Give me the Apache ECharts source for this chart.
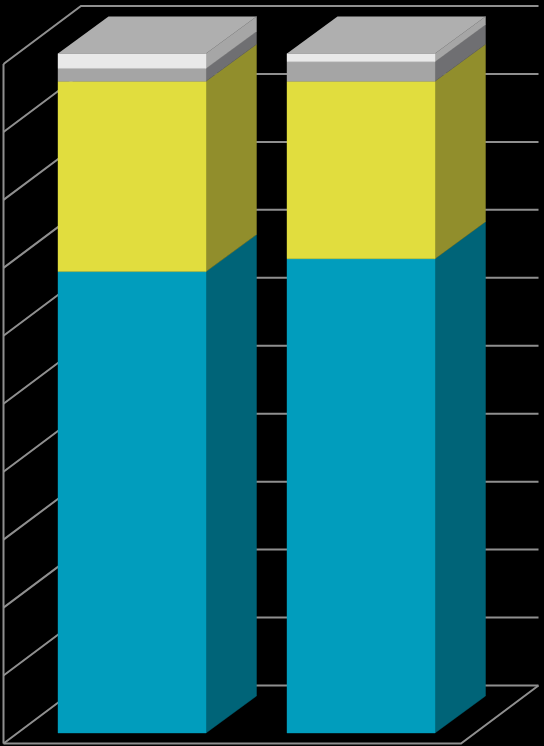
<!DOCTYPE html>
<html>
<head>
<meta charset="utf-8">
<style>html,body{margin:0;padding:0;background:#000}#c{width:544px;height:746px}</style>
<script src="https://cdn.jsdelivr.net/npm/echarts@6/dist/echarts.min.js"></script>
</head>
<body>
<div id="c"></div>
<script>
var categories = ['Column 1', 'Column 2'];
var blueValues = [67.9, 69.8];
var yellowValues = [28.0, 26.1];
var grayValues = [1.9, 2.9];
var whiteValues = [2.2, 1.2];
var gridTicks = [0, 10, 20, 30, 40, 50, 60, 70, 80, 90, 100];

var DEPTH_X = 50.5, DEPTH_Y = 37;     // bar depth
var FLOOR_X = 13.5, FLOOR_Y = 10.5;   // from bar front plane to the frame's front edge
var WALL_X = 77.5, WALL_Y = 58;       // depth of the floor / side wall
var BAR_FRACTION = 0.646;
var LINE = '#8f8f8f';

function segment(values, base, front, side, top) {
  return {
    type: 'custom', coordinateSystem: 'cartesian2d', silent: true, z: 5,
    data: values.map(function (v, i) { return [i, base[i], base[i] + v]; }),
    encode: { x: 0, y: [1, 2] },
    renderItem: function (params, api) {
      var i = api.value(0), w = api.size([1, 0])[0] * BAR_FRACTION;
      var a = api.coord([i, api.value(1)]), b = api.coord([i, api.value(2)]);
      var x0 = Math.round(a[0] - w / 2), x1 = x0 + Math.round(w), y0 = a[1], y1 = b[1];
      var kids = [
        { type: 'polygon', shape: { points: [[x1, y0], [x1 + DEPTH_X, y0 - DEPTH_Y], [x1 + DEPTH_X, y1 - DEPTH_Y], [x1, y1]] }, style: { fill: side, stroke: side, lineWidth: 0.4 } },
        { type: 'rect', shape: { x: x0, y: y1, width: x1 - x0, height: y0 - y1 }, style: { fill: front, stroke: front, lineWidth: 0.4 } }
      ];
      if (top) {
        kids.push({ type: 'polygon', shape: { points: [[x0, y1], [x1, y1], [x1 + DEPTH_X, y1 - DEPTH_Y], [x0 + DEPTH_X, y1 - DEPTH_Y]] }, style: { fill: top } });
      }
      return { type: 'group', children: kids };
    }
  };
}

var base1 = blueValues.map(function () { return 0; });
var base2 = blueValues.slice();
var base3 = blueValues.map(function (v, i) { return v + yellowValues[i]; });
var base4 = base3.map(function (v, i) { return v + grayValues[i]; });

var wallSeries = {
  type: 'custom', coordinateSystem: 'cartesian2d', silent: true, z: 1,
  data: gridTicks.map(function (t) { return [0, t]; }),
  encode: { x: 0, y: 1 },
  renderItem: function (params, api) {
    var cs = params.coordSys, y = api.coord([0, api.value(1)])[1];
    var fx = cs.x - FLOOR_X, fy = y + FLOOR_Y;
    var bx = fx + WALL_X, by = fy - WALL_Y;
    var ex = bx + cs.width - 1;
    var st = { stroke: LINE, lineWidth: 2, fill: 'none' };
    var kids = [{ type: 'polyline', shape: { points: [[fx, fy], [bx, by], [ex, by]] }, style: st }];
    if (api.value(1) === 0) {
      kids.push({ type: 'polyline', shape: { points: [[fx, fy], [ex - WALL_X, fy], [ex, by]] }, style: st });
      var topY = api.coord([0, gridTicks[gridTicks.length - 1]])[1] + FLOOR_Y;
      kids.push({ type: 'line', shape: { x1: fx, y1: fy, x2: fx, y2: topY }, style: st });
    }
    return { type: 'group', children: kids };
  }
};

var chart = echarts.init(document.getElementById('c'), null, { renderer: 'canvas' });
chart.setOption({
  backgroundColor: '#000000',
  animation: false,
  grid: { left: 17, right: 68.5, top: 53.5, bottom: 13 },
  xAxis: { type: 'category', data: categories, axisLine: { show: false }, axisTick: { show: false }, axisLabel: { show: false }, splitLine: { show: false } },
  yAxis: { type: 'value', min: 0, max: 100, interval: 10, axisLine: { show: false }, axisTick: { show: false }, axisLabel: { show: false }, splitLine: { show: false } },
  series: [
    wallSeries,
    segment(blueValues, base1, '#019dbd', '#006478'),
    segment(yellowValues, base2, '#e1dd3e', '#918e2c'),
    segment(grayValues, base3, '#a5a5a5', '#6f6f72'),
    segment(whiteValues, base4, '#e9e9e9', '#a6a6a6', '#afafaf')
  ]
});
</script>
</body>
</html>
